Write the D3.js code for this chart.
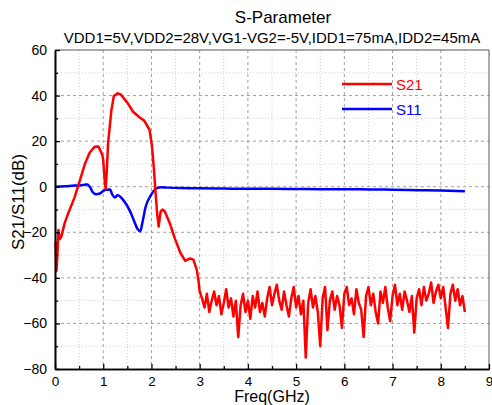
<!DOCTYPE html>
<html>
<head>
<meta charset="utf-8">
<script src="https://cdn.jsdelivr.net/npm/d3@7"></script>
<style>
body { margin: 0; background: #fff; }
svg text { font-family: "Liberation Sans", Arial, sans-serif; fill: #000; }
</style>
</head>
<body>
<div id="chart"></div>
<script>
// values (GHz / dB)

// S21 - smooth part up to ~3 GHz, then the noisy floor
const s21Freq = [0.01, 0.03, 0.05, 0.07, 0.10, 0.13, 0.20, 0.25, 0.40, 0.52, 0.62, 0.72, 0.82, 0.90, 0.98,
  1.00, 1.03, 1.05, 1.07, 1.10, 1.17, 1.22, 1.30, 1.36, 1.42, 1.50, 1.62, 1.75, 1.85, 1.96, 2.01, 2.05,
  2.09, 2.12, 2.15, 2.19, 2.23, 2.28, 2.38, 2.49, 2.60, 2.70, 2.80, 2.87, 2.94, 2.98,
  3.00, 3.05, 3.10, 3.15, 3.20, 3.25, 3.30, 3.35, 3.40, 3.45, 3.50, 3.55, 3.60, 3.65, 3.70, 3.75,
  3.80, 3.85, 3.90, 3.95, 4.00, 4.05, 4.10, 4.15, 4.20, 4.25, 4.30, 4.35, 4.40, 4.45, 4.50, 4.55,
  4.60, 4.65, 4.70, 4.75, 4.80, 4.85, 4.90, 4.95, 5.00, 5.05, 5.10, 5.15, 5.20, 5.25, 5.30, 5.35,
  5.40, 5.45, 5.50, 5.55, 5.60, 5.65, 5.70, 5.75, 5.80, 5.85, 5.90, 5.95, 6.00, 6.05, 6.10, 6.15,
  6.20, 6.25, 6.30, 6.35, 6.40, 6.45, 6.50, 6.55, 6.60, 6.65, 6.70, 6.75, 6.80, 6.85, 6.90, 6.95,
  7.00, 7.05, 7.10, 7.15, 7.20, 7.25, 7.30, 7.35, 7.40, 7.45, 7.50, 7.55, 7.60, 7.65, 7.70, 7.75,
  7.80, 7.85, 7.90, 7.95, 8.00, 8.05, 8.10, 8.15, 8.20, 8.25, 8.30, 8.35, 8.40, 8.45, 8.50];
const s21Db = [-24, -37, -30, -19, -23, -22, -16, -13, -5, 3, 10, 15, 17.5, 17.7, 14,
  11.7, 3, -1, 5, 19, 33.6, 39.8, 41, 40.5, 39, 36.9, 32.9, 30.5, 29, 25, 18, 8,
  -4, -12, -17.5, -11, -10, -11, -16, -23, -29, -32.5, -31.5, -32, -36.5, -42,
  -46, -49, -53, -47, -55, -50, -46, -52, -48, -56, -51, -45, -53, -49, -57, -50,
  -66, -52, -47, -55, -50, -58, -48, -53, -46, -55, -51, -57, -49, -44, -52, -47,
  -43, -50, -54, -46, -52, -57, -49, -44, -53, -48, -56, -50, -75, -51, -45, -53,
  -48, -55, -70, -49, -44, -63, -50, -46, -54, -48, -52, -62, -47, -44, -52, -49,
  -56, -45, -51, -54, -66, -48, -44, -52, -47, -55, -60, -46, -51, -44, -53, -59,
  -48, -43, -52, -47, -54, -46, -50, -55, -48, -64, -49, -45, -52, -44, -50, -47,
  -42, -51, -46, -43, -49, -44, -53, -62, -47, -43, -50, -45, -52, -48, -55];

// S11
const s11Freq = [0.00, 0.20, 0.40, 0.52, 0.62, 0.67, 0.72, 0.78, 0.85, 0.93, 1.00, 1.07, 1.14, 1.19, 1.24,
  1.30, 1.36, 1.45, 1.55, 1.64, 1.71, 1.77, 1.81, 1.88, 1.99, 2.10, 2.20, 2.35, 2.60, 3.00, 3.50,
  4.00, 4.50, 5.00, 5.50, 6.00, 6.50, 7.00, 7.50, 8.00, 8.50];
const s11Db = [0, 0.2, 0.5, 0.6, 0.9, 1.0, 0, -2.3, -3.3, -3.0, -1.8, -1.3, -1.2, -3.5, -4.7,
  -3.8, -4.5, -6.8, -10.5, -15, -18.5, -19.5, -16, -8.8, -3.7, -0.8, -0.2, -0.4, -0.6, -0.7, -0.8,
  -0.9, -0.9, -1.0, -1.1, -1.1, -1.2, -1.3, -1.5, -1.7, -2.0];

const xTicks = [0, 1, 2, 3, 4, 5, 6, 7, 8, 9];
const xMinor = [0.5, 1.5, 2.5, 3.5, 4.5, 5.5, 6.5, 7.5, 8.5];
const yTicks = [-80, -60, -40, -20, 0, 20, 40, 60];
const yMinor = [-70, -50, -30, -10, 10, 30, 50];

const seriesNames = ["S21", "S11"];
const seriesColors = ["#ff0000", "#0000ff"];

const titleText = "S-Parameter";
const subTitleText = "VDD1=5V,VDD2=28V,VG1-VG2=-5V,IDD1=75mA,IDD2=45mA";
const xLabel = "Freq(GHz)";
const yLabel = "S21/S11(dB)";


////////////////////////////////////////////////////////////

let W = 492, H = 405;
let margin = {top: 50, right: 3, bottom: 36, left: 55};
let width = W - margin.left - margin.right,
    height = H - margin.top - margin.bottom;

var svg = d3.select("#chart").append("svg")
    .attr("width", W)
    .attr("height", H);

var x = d3.scaleLinear().domain([0, 9]).range([0, width]);
var y = d3.scaleLinear().domain([-80, 60]).range([height, 0]);

var g = svg.append("g")
    .attr("transform", "translate(" + margin.left + "," + margin.top + ")");

// grid - minor dotted, major dashed
g.selectAll(".xminor").data(xMinor).enter().append("line")
    .attr("x1", d => x(d)).attr("x2", d => x(d))
    .attr("y1", 0).attr("y2", height)
    .attr("stroke", "#d0d0d0").attr("stroke-dasharray", "1,2");
g.selectAll(".yminor").data(yMinor).enter().append("line")
    .attr("x1", 0).attr("x2", width)
    .attr("y1", d => y(d)).attr("y2", d => y(d))
    .attr("stroke", "#d0d0d0").attr("stroke-dasharray", "1,2");
g.selectAll(".xmajor").data(xTicks.slice(1, -1)).enter().append("line")
    .attr("x1", d => x(d)).attr("x2", d => x(d))
    .attr("y1", 0).attr("y2", height)
    .attr("stroke", "#a0a0a0").attr("stroke-dasharray", "3,3");
g.selectAll(".ymajor").data(yTicks.slice(1, -1)).enter().append("line")
    .attr("x1", 0).attr("x2", width)
    .attr("y1", d => y(d)).attr("y2", d => y(d))
    .attr("stroke", "#a0a0a0").attr("stroke-dasharray", "3,3");

// top / right frame (thin)
g.append("path")
    .attr("d", "M0,0H" + width + "V" + height)
    .attr("fill", "none").attr("stroke", "#555").attr("stroke-width", 1);

// curves
var line = d3.line()
    .x(d => x(d[0]))
    .y(d => y(d[1]));

var s21 = s21Freq.map((f, i) => [f, s21Db[i]]);
var s11 = s11Freq.map((f, i) => [f, s11Db[i]]);

g.append("path")
    .attr("d", line.curve(d3.curveMonotoneX)(s11))
    .attr("fill", "none")
    .attr("stroke", seriesColors[1])
    .attr("stroke-width", 2.5)
    .attr("stroke-linejoin", "round");

g.append("path")
    .attr("d", line.curve(d3.curveLinear)(s21))
    .attr("fill", "none")
    .attr("stroke", seriesColors[0])
    .attr("stroke-width", 2.5)
    .attr("stroke-linejoin", "round");

// axes, ticks pointing inward
var xAxis = d3.axisBottom(x).tickValues(xTicks).tickSizeInner(-5).tickSizeOuter(0).tickPadding(7)
    .tickFormat(d3.format("d"));
var xAxisMinor = d3.axisBottom(x).tickValues(xMinor).tickSizeInner(-3).tickSizeOuter(0).tickFormat("");
var yAxis = d3.axisLeft(y).tickValues(yTicks).tickSizeInner(-5).tickSizeOuter(0).tickPadding(8)
    .tickFormat(d3.format("d"));
var yAxisMinor = d3.axisLeft(y).tickValues(yMinor).tickSizeInner(-3).tickSizeOuter(0).tickFormat("");

g.append("g").attr("transform", "translate(0," + height + ")").call(xAxisMinor);
g.append("g").call(yAxisMinor);
var gx = g.append("g").attr("transform", "translate(0," + height + ")").call(xAxis);
var gy = g.append("g").call(yAxis);

g.selectAll(".domain").attr("stroke", "#000").attr("stroke-width", 1.6);
g.selectAll(".tick line").attr("stroke", "#000").attr("stroke-width", 1.3);
gx.selectAll("text").style("font-size", "13.5px").attr("fill", "#000");
gy.selectAll("text").style("font-size", "14px").attr("fill", "#000");

// legend
seriesNames.forEach(function (name, i) {
    let ly = 84 + i * 25;
    svg.append("line")
        .attr("x1", 342).attr("x2", 392)
        .attr("y1", ly).attr("y2", ly)
        .attr("stroke", seriesColors[i]).attr("stroke-width", 2.5);
    svg.append("text")
        .attr("x", 396).attr("y", ly + 5.5)
        .style("font-size", "15px")
        .style("fill", seriesColors[i])
        .text(name);
});

// titles
svg.append("text")
    .attr("x", 283).attr("y", 23)
    .attr("text-anchor", "middle")
    .style("font-size", "17px")
    .text(titleText);

svg.append("text")
    .attr("x", 272).attr("y", 43)
    .attr("text-anchor", "middle")
    .style("font-size", "15px")
    .text(subTitleText);

svg.append("text")
    .attr("x", 272).attr("y", 402)
    .attr("text-anchor", "middle")
    .style("font-size", "16px")
    .text(xLabel);

svg.append("text")
    .attr("transform", "translate(24,202) rotate(-90)")
    .attr("text-anchor", "middle")
    .style("font-size", "17px")
    .text(yLabel);
</script>
</body>
</html>
